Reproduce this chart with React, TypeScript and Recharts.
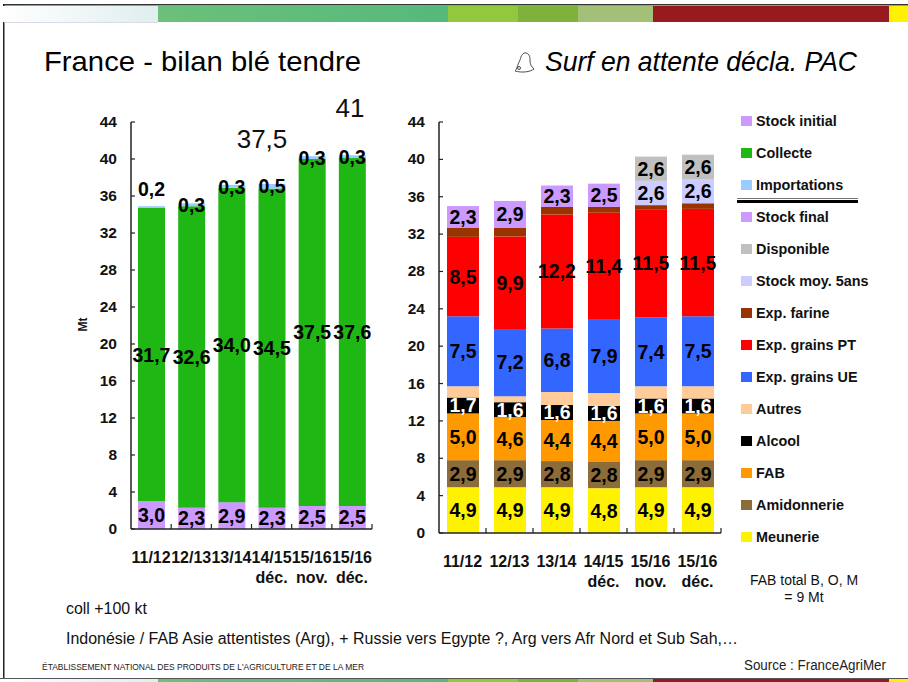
import React from "react";
import { Bar, BarChart, LabelList, XAxis, YAxis } from "recharts";

const FONT = '"Liberation Sans", Arial, sans-serif';

const categories = ["11/12", "12/13", "13/14", "14/15", "15/16", "15/16"];
const subLabels = ["", "", "", "déc.", "nov.", "déc."];
const yTicks = [0, 4, 8, 12, 16, 20, 24, 28, 32, 36, 40, 44];

// left chart
const stockInitial = [3.0, 2.3, 2.9, 2.3, 2.5, 2.5];
const collecte = [31.7, 32.6, 34.0, 34.5, 37.5, 37.6];
const importations = [0.2, 0.3, 0.3, 0.5, 0.3, 0.3];

// right chart, bottom to top
const meunerie = [4.9, 4.9, 4.9, 4.8, 4.9, 4.9];
const amidonnerie = [2.9, 2.9, 2.8, 2.8, 2.9, 2.9];
const fab = [5.0, 4.6, 4.4, 4.4, 5.0, 5.0];
const alcool = [1.7, 1.6, 1.6, 1.6, 1.6, 1.6];
const autres = [1.2, 0.65, 1.4, 1.4, 1.3, 1.3];
const expGrainsUe = [7.5, 7.2, 6.8, 7.9, 7.4, 7.5];
const expGrainsPt = [8.5, 9.9, 12.2, 11.4, 11.5, 11.5];
const expFarine = [1.0, 0.9, 0.8, 0.6, 0.5, 0.6];
const stockFinal = [2.3, 2.9, 2.3, 2.5, null, null];
const stockMoy = [null, null, null, null, 2.6, 2.6];
const disponible = [null, null, null, null, 2.6, 2.6];

const legendNames = [
  "Stock initial",
  "Collecte",
  "Importations",
  "Stock final",
  "Disponible",
  "Stock moy. 5ans",
  "Exp. farine",
  "Exp. grains PT",
  "Exp. grains UE",
  "Autres",
  "Alcool",
  "FAB",
  "Amidonnerie",
  "Meunerie",
];
const legendColors = [
  "#cc99ff",
  "#1fb714",
  "#99ccff",
  "#cc99ff",
  "#c0c0c0",
  "#ccccff",
  "#993300",
  "#ff0000",
  "#3366ff",
  "#ffcc99",
  "#000000",
  "#ff9900",
  "#8c6d3a",
  "#fff200",
];

const bandStops = [0, 158, 448, 518, 578, 653, 889, 908];
const bandColors = ["url(#fade)", "url(#greens)", "#94c83c", "#7fb23a", "#a3bf78", "#961a1e", "#fff200"];

const leftData = categories.map((c, i) => ({
  key: `${c} ${i}`,
  stockInitial: stockInitial[i],
  collecte: collecte[i],
  importations: importations[i],
}));

const rightData = categories.map((c, i) => ({
  key: `${c} ${i}`,
  meunerie: meunerie[i],
  amidonnerie: amidonnerie[i],
  fab: fab[i],
  alcool: alcool[i],
  autres: autres[i],
  expGrainsUe: expGrainsUe[i],
  expGrainsPt: expGrainsPt[i],
  expFarine: expFarine[i],
  stockFinal: stockFinal[i],
  stockMoy: stockMoy[i],
  disponible: disponible[i],
}));

const fmt = (v: any) => (v == null ? "" : Number(v).toFixed(1).replace(".", ","));

function YTick({ x, y, payload }: any) {
  return (
    <g>
      <line x1={x} x2={x + 4} y1={y} y2={y} stroke="#222" strokeWidth={1.2} />
      <text x={x - 14} y={y + 5} textAnchor="end" fontFamily={FONT} fontSize={15.5} fontWeight="bold" fill="#111">
        {payload.value}
      </text>
    </g>
  );
}

function makeXTick(band: number) {
  return function XTick({ x, y, payload, index }: any) {
    const i = payload.index ?? index;
    return (
      <g>
        <line x1={x + band / 2} x2={x + band / 2} y1={y - 5} y2={y} stroke="#222" strokeWidth={1.2} />
        <text x={x} y={y + 34} textAnchor="middle" fontFamily={FONT} fontSize={16} fontWeight="bold" fill="#111">
          {categories[i]}
        </text>
        <text x={x} y={y + 54} textAnchor="middle" fontFamily={FONT} fontSize={16} fontWeight="bold" fill="#111">
          {subLabels[i]}
        </text>
      </g>
    );
  };
}

function barLabel(color = "#000") {
  return {
    position: "center" as const,
    formatter: fmt,
    fill: color,
    fontFamily: FONT,
    fontSize: 19.5,
    fontWeight: "bold",
  };
}

// the import labels sit on the thin top slice, the first one above it
function ImportLabel({ x, y, width, value, index }: any) {
  return (
    <text
      x={x + width / 2}
      y={y + (index === 0 ? -10 : 9)}
      textAnchor="middle"
      fontFamily={FONT}
      fontSize={19.5}
      fontWeight="bold"
      fill="#000"
    >
      {fmt(value)}
    </text>
  );
}

function Backdrop() {
  return (
    <svg width={908} height={682} style={{ position: "absolute", left: 0, top: 0 }} fontFamily={FONT}>
      <defs>
        <linearGradient id="fade">
          <stop offset="0" stopColor="#ffffff" />
          <stop offset="1" stopColor="#e0eeee" />
        </linearGradient>
        <linearGradient id="greens">
          <stop offset="0" stopColor="#6cc07a" />
          <stop offset="1" stopColor="#55b97c" />
        </linearGradient>
      </defs>
      <rect x={3} y={4} width={905} height={1.5} fill="#333" />
      <rect x={3} y={4} width={1.5} height={675} fill="#222" />
      {bandColors.map((c, i) => (
        <rect key={i} x={bandStops[i]} y={6} width={bandStops[i + 1] - bandStops[i]} height={16} fill={c} />
      ))}
      <rect x={4} y={22} width={154} height={0.7} fill="#ccccdd" />
      <rect x={0} y={678} width={908} height={1} fill="#555" />
      {bandColors.map((c, i) => (
        <rect key={i} x={bandStops[i]} y={679} width={bandStops[i + 1] - bandStops[i]} height={3} fill={c} />
      ))}

      <text x={44} y={71} fontSize={28} fill="#000" textLength={317} lengthAdjust="spacingAndGlyphs">
        France - bilan blé tendre
      </text>
      <g fill="none" stroke="#222" strokeWidth={0.8}>
        <path d="M526 53 C530 54 530 58 530 61 C530 65 532 67 534 69 C530 72 522 73 515 71 C517 69 517 66 520 60 C521 56 523 52 526 53 Z" />
        <circle cx={519} cy={68} r={1.5} />
      </g>
      <text x={545} y={71} fontSize={28} fontStyle="italic" fill="#000" textLength={312} lengthAdjust="spacingAndGlyphs">
        Surf en attente décla. PAC
      </text>

      <text x={262} y={148} textAnchor="middle" fontSize={26} fill="#111">37,5</text>
      <text x={350} y={117} textAnchor="middle" fontSize={26} fill="#111">41</text>

      {legendNames.map((name, i) => (
        <g key={name}>
          <rect x={741} y={116 + i * 32} width={11} height={10} fill={legendColors[i]} />
          <text x={756} y={126 + i * 32} fontSize={14.4} fontWeight="bold" fill="#111">{name}</text>
        </g>
      ))}
      <rect x={737} y={198} width={121} height={1} fill="#777" />
      <rect x={737} y={200} width={121} height={3} fill="#000" />

      <text x={804} y={585} textAnchor="middle" fontSize={14} fill="#111">FAB total B, O, M</text>
      <text x={804} y={602} textAnchor="middle" fontSize={14} fill="#111">= 9 Mt</text>
      <text x={66} y={614} fontSize={16} fill="#111" textLength={81} lengthAdjust="spacingAndGlyphs">coll +100 kt</text>
      <text x={66} y={644} fontSize={16} fill="#111" textLength={672} lengthAdjust="spacingAndGlyphs">
        Indonésie / FAB Asie attentistes (Arg), + Russie vers Egypte ?, Arg vers Afr Nord et Sub Sah,…
      </text>
      <text x={42} y={670} fontSize={9} fill="#222" textLength={322} lengthAdjust="spacingAndGlyphs">
        ÉTABLISSEMENT NATIONAL DES PRODUITS DE L'AGRICULTURE ET DE LA MER
      </text>
      <text x={744} y={670} fontSize={14} fill="#222" textLength={142} lengthAdjust="spacingAndGlyphs">
        Source : FranceAgriMer
      </text>
    </svg>
  );
}

function LeftChart() {
  return (
    <div style={{ position: "absolute", left: 70, top: 100 }}>
      <BarChart
        width={310}
        height={489}
        data={leftData}
        margin={{ left: 0, right: 8, top: 22, bottom: 0 }}
        barSize={27}
      >
        <XAxis
          dataKey="key"
          interval={0}
          height={60}
          tickSize={0}
          tickMargin={0}
          tickLine={false}
          axisLine={{ stroke: "#222", strokeWidth: 1.5 }}
          tick={makeXTick(40.2)}
        />
        <YAxis
          width={61}
          domain={[0, 44]}
          ticks={yTicks}
          interval={0}
          tickSize={0}
          tickMargin={0}
          tickLine={false}
          axisLine={{ stroke: "#222", strokeWidth: 1.5 }}
          tick={YTick}
          label={{
            value: "Mt",
            angle: -90,
            position: "insideLeft",
            offset: 13,
            dy: 6,
            fontFamily: FONT,
            fontSize: 12,
            fontWeight: "bold",
            fill: "#111",
          }}
        />
        <Bar dataKey="stockInitial" stackId="a" fill="#cc99ff" isAnimationActive={false}>
          <LabelList dataKey="stockInitial" {...barLabel()} />
        </Bar>
        <Bar dataKey="collecte" stackId="a" fill="#1fb714" isAnimationActive={false}>
          <LabelList dataKey="collecte" {...barLabel()} />
        </Bar>
        <Bar dataKey="importations" stackId="a" fill="#99ccff" isAnimationActive={false}>
          <LabelList dataKey="importations" content={ImportLabel} />
        </Bar>
      </BarChart>
    </div>
  );
}

function RightChart() {
  return (
    <div style={{ position: "absolute", left: 380, top: 100 }}>
      <BarChart
        width={350}
        height={493}
        data={rightData}
        margin={{ left: 0, right: 9, top: 22, bottom: 0 }}
        barSize={32}
      >
        <XAxis
          dataKey="key"
          interval={0}
          height={60}
          tickSize={0}
          tickMargin={0}
          tickLine={false}
          axisLine={{ stroke: "#222", strokeWidth: 1.5 }}
          tick={makeXTick(47)}
        />
        <YAxis
          width={59}
          domain={[0, 44]}
          ticks={yTicks}
          interval={0}
          tickSize={0}
          tickMargin={0}
          tickLine={false}
          axisLine={{ stroke: "#222", strokeWidth: 1.5 }}
          tick={YTick}
        />
        <Bar dataKey="meunerie" stackId="a" fill="#fff200" isAnimationActive={false}>
          <LabelList dataKey="meunerie" {...barLabel()} />
        </Bar>
        <Bar dataKey="amidonnerie" stackId="a" fill="#8c6d3a" isAnimationActive={false}>
          <LabelList dataKey="amidonnerie" {...barLabel()} />
        </Bar>
        <Bar dataKey="fab" stackId="a" fill="#ff9900" isAnimationActive={false}>
          <LabelList dataKey="fab" {...barLabel()} />
        </Bar>
        <Bar dataKey="alcool" stackId="a" fill="#000000" isAnimationActive={false}>
          <LabelList dataKey="alcool" {...barLabel("#ffffff")} />
        </Bar>
        <Bar dataKey="autres" stackId="a" fill="#ffcc99" isAnimationActive={false} />
        <Bar dataKey="expGrainsUe" stackId="a" fill="#3366ff" isAnimationActive={false}>
          <LabelList dataKey="expGrainsUe" {...barLabel()} />
        </Bar>
        <Bar dataKey="expGrainsPt" stackId="a" fill="#ff0000" isAnimationActive={false}>
          <LabelList dataKey="expGrainsPt" {...barLabel()} />
        </Bar>
        <Bar dataKey="expFarine" stackId="a" fill="#993300" isAnimationActive={false} />
        <Bar dataKey="stockFinal" stackId="a" fill="#cc99ff" isAnimationActive={false}>
          <LabelList dataKey="stockFinal" {...barLabel()} />
        </Bar>
        <Bar dataKey="stockMoy" stackId="a" fill="#ccccff" isAnimationActive={false}>
          <LabelList dataKey="stockMoy" {...barLabel()} />
        </Bar>
        <Bar dataKey="disponible" stackId="a" fill="#c0c0c0" isAnimationActive={false}>
          <LabelList dataKey="disponible" {...barLabel()} />
        </Bar>
      </BarChart>
    </div>
  );
}

export default function App() {
  return (
    <div style={{ position: "absolute", left: 0, top: 0, width: 908, height: 682, overflow: "hidden", background: "#fff" }}>
      <Backdrop />
      <LeftChart />
      <RightChart />
    </div>
  );
}
